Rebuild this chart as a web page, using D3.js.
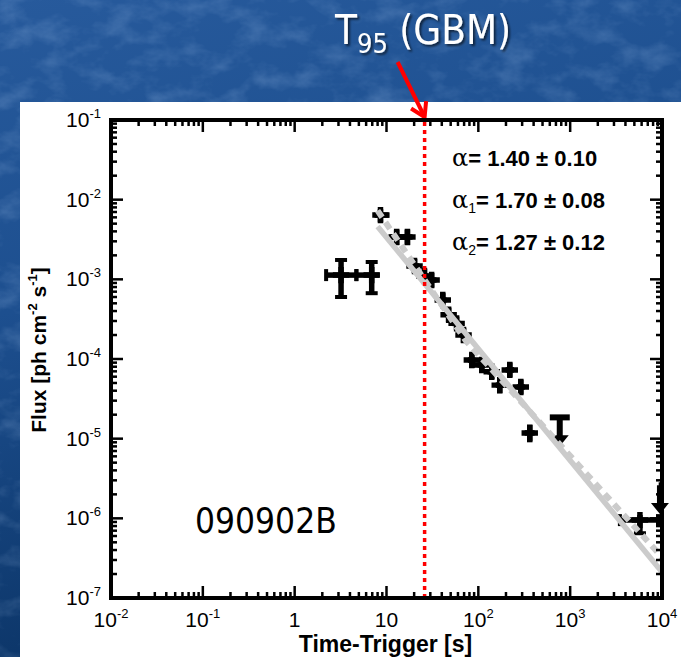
<!DOCTYPE html>
<html>
<head>
<meta charset="utf-8">
<script src="https://cdn.jsdelivr.net/npm/d3@7"></script>
<style>
  html, body { margin: 0; padding: 0; background: #1b4c8a; }
  svg { display: block; }
</style>
</head>
<body>
<svg id="chart" width="681" height="657"></svg>
<script>
// ---- Light-curve data: detections (time bins in s, flux in ph cm^-2 s^-1) ----
const timeMid  = [3.2, 6.9, 8.6, 12.9, 16.9, 20.2, 25.9, 31, 41, 47.5, 58, 69, 85, 109, 140, 171, 220, 290, 363, 5750];
const timeLo   = [2.2, 4.7, 7.4, 10.8, 14.9, 18.0, 22.8, 28.5, 36, 44, 52, 63, 77, 98, 126, 155, 198, 262, 320, 3480];
const timeHi   = [4.7, 8.4, 10.8, 14.9, 19.2, 22.8, 28.5, 35, 45, 52, 64, 76, 93, 120, 155, 190, 245, 320, 410, 9040];
const fluxMid  = [1.13e-3, 1.13e-3, 6.4e-3, 3.4e-3, 3.4e-3, 1.47e-3, 1.10e-3, 9.8e-4, 5.5e-4, 3.6e-4, 2.8e-4, 2.0e-4, 9.7e-5, 8.4e-5, 6.9e-5, 4.7e-5, 7.3e-5, 4.45e-5, 1.18e-5, 9.5e-7];
const fluxLo   = [6.0e-4, 6.7e-4, 5.2e-3, 2.7e-3, 2.7e-3, 1.2e-3, 9.0e-4, 7.9e-4, 4.5e-4, 2.9e-4, 2.3e-4, 1.6e-4, 7.7e-5, 6.8e-5, 5.6e-5, 3.7e-5, 5.9e-5, 3.6e-5, 9.0e-6, 6.5e-7];
const fluxHi   = [1.75e-3, 1.65e-3, 7.6e-3, 4.2e-3, 4.2e-3, 1.8e-3, 1.35e-3, 1.2e-3, 6.7e-4, 4.4e-4, 3.4e-4, 2.45e-4, 1.2e-4, 1.03e-4, 8.5e-5, 5.8e-5, 9.0e-5, 5.5e-5, 1.5e-5, 1.1e-6];

// ---- Upper limits ----
const ulTimeMid = [770, 9500];
const ulTimeLo  = [600, 9200];
const ulTimeHi  = [990, 9800];
const ulFlux    = [1.85e-5, 2.6e-6];

// ---- Power-law fits ----
const alphaSingle = 1.40, normSingle = 0.0845;          // F = N t^-alpha
const alpha1 = 1.70, alpha2 = 1.27, normBroken = 0.25, tBreak = 74;
const fitStart = 8, fitEnd = 1e4;
const t95 = 26;

// ---- Axes ----
const xTickValues = [1e-2, 1e-1, 1, 10, 1e2, 1e3, 1e4];
const xTickBase   = ["10", "10", "1", "10", "10", "10", "10"];
const xTickExp    = ["-2", "-1", "", "", "2", "3", "4"];
const yTickValues = [1e-1, 1e-2, 1e-3, 1e-4, 1e-5, 1e-6, 1e-7];
const yTickExp    = ["-1", "-2", "-3", "-4", "-5", "-6", "-7"];

const svg = d3.select("#chart");
const W = 681, H = 657;
const plot = { left: 111, right: 662, top: 120, bottom: 598 };

const x = d3.scaleLog().domain([1e-2, 1e4]).range([plot.left, plot.right]);
const y = d3.scaleLog().domain([1e-7, 1e-1]).range([plot.bottom, plot.top]);

// ---- Slide background ----
const defs = svg.append("defs");
const bg = defs.append("linearGradient").attr("id", "bgGrad")
  .attr("x1", 0).attr("y1", 0).attr("x2", 0.25).attr("y2", 1);
bg.append("stop").attr("offset", 0).attr("stop-color", "#275a9c");
bg.append("stop").attr("offset", 0.45).attr("stop-color", "#1d4f8f");
bg.append("stop").attr("offset", 1).attr("stop-color", "#0b3466");

const tex = defs.append("filter").attr("id", "tex")
  .attr("x", 0).attr("y", 0).attr("width", 1).attr("height", 1);
tex.append("feTurbulence").attr("type", "fractalNoise")
  .attr("baseFrequency", "0.03 0.045").attr("numOctaves", 4).attr("seed", 11);
tex.append("feColorMatrix").attr("type", "matrix")
  .attr("values", "0 0 0 0 0.5  0 0 0 0 0.68  0 0 0 0 0.95  0.9 0 0 0 -0.4");

svg.append("rect").attr("width", W).attr("height", H).attr("fill", "url(#bgGrad)");
svg.append("rect").attr("width", W).attr("height", H).attr("filter", "url(#tex)").attr("opacity", 0.5);

const shadow = defs.append("filter").attr("id", "shadow")
  .attr("x", -0.1).attr("y", -0.2).attr("width", 1.3).attr("height", 1.5);
shadow.append("feDropShadow").attr("dx", 2).attr("dy", 2).attr("stdDeviation", 1.2)
  .attr("flood-color", "#000").attr("flood-opacity", 0.6);

// ---- White figure panel ----
svg.append("rect").attr("x", 20).attr("y", 102).attr("width", W - 20).attr("height", H - 102)
  .attr("fill", "#ffffff");

// ---- Title with arrow ----
const title = svg.append("text").attr("x", 335).attr("y", 44)
  .attr("font-family", "'DejaVu Sans Condensed', 'DejaVu Sans', sans-serif")
  .attr("font-size", 40).attr("fill", "#ffffff").attr("filter", "url(#shadow)");
title.append("tspan").text("T");
title.append("tspan").attr("font-size", 27).attr("dy", 9).text("95");
title.append("tspan").attr("dy", -9).text(" (GBM)");

const arrowEndX = x(t95), arrowEndY = plot.top - 3;
const arrowStartX = arrowEndX - 27, arrowStartY = 62;
svg.append("line").attr("x1", arrowStartX).attr("y1", arrowStartY)
  .attr("x2", arrowEndX).attr("y2", arrowEndY)
  .attr("stroke", "#ff0000").attr("stroke-width", 4);
{
  const ang = Math.atan2(arrowEndY - arrowStartY, arrowEndX - arrowStartX);
  const L = 16, spread = 0.55;
  const p1 = [arrowEndX - L * Math.cos(ang - spread), arrowEndY - L * Math.sin(ang - spread)];
  const p2 = [arrowEndX - L * Math.cos(ang + spread), arrowEndY - L * Math.sin(ang + spread)];
  svg.append("path")
    .attr("d", `M${p1[0]},${p1[1]} L${arrowEndX},${arrowEndY} L${p2[0]},${p2[1]}`)
    .attr("fill", "none").attr("stroke", "#ff0000").attr("stroke-width", 4)
    .attr("stroke-linejoin", "miter");
}

// ---- Plot content ----
const g = svg.append("g");

// data points: cross marker plus error bars; end caps only where the bar is long enough to show them
const pts = d3.range(timeMid.length).map(i => ({
  t: timeMid[i], t0: timeLo[i], t1: timeHi[i], f: fluxMid[i], f0: fluxLo[i], f1: fluxHi[i]
}));
const pg = g.append("g").attr("stroke", "#000").attr("stroke-linecap", "butt");
const crossPath = d3.symbol(d3.symbolCross).size(150)();
pts.forEach(d => {
  const xc = x(d.t), yc = y(d.f);
  g.append("path").attr("d", crossPath).attr("transform", `translate(${xc},${yc})`).attr("fill", "#000");
  pg.append("line").attr("x1", x(d.t0)).attr("x2", x(d.t1)).attr("y1", yc).attr("y2", yc)
    .attr("stroke-width", 5.5);
  pg.append("line").attr("x1", xc).attr("x2", xc).attr("y1", y(d.f0)).attr("y2", y(d.f1))
    .attr("stroke-width", 5.5);
  [d.t0, d.t1].forEach(tt => {
    if (Math.abs(x(tt) - xc) > 11) pg.append("line")
      .attr("x1", x(tt)).attr("x2", x(tt)).attr("y1", yc - 6).attr("y2", yc + 6)
      .attr("stroke-width", 4);
  });
  [d.f0, d.f1].forEach(ff => {
    if (Math.abs(y(ff) - yc) > 11) pg.append("line")
      .attr("x1", xc - 6).attr("x2", xc + 6).attr("y1", y(ff)).attr("y2", y(ff))
      .attr("stroke-width", 4);
  });
});

// upper limits
d3.range(ulTimeMid.length).forEach(i => {
  const xm = x(ulTimeMid[i]), yv = y(ulFlux[i]);
  const yEnd = y(ulFlux[i] / 2.3);
  pg.append("line").attr("x1", x(ulTimeLo[i])).attr("x2", x(ulTimeHi[i]))
    .attr("y1", yv).attr("y2", yv).attr("stroke-width", 6);
  pg.append("line").attr("x1", xm).attr("x2", xm).attr("y1", yv).attr("y2", yEnd - 8)
    .attr("stroke-width", 6);
  g.append("path").attr("d", `M${xm - 9},${yEnd - 11} L${xm + 9},${yEnd - 11} L${xm},${yEnd} Z`)
    .attr("fill", "#000");
});

// fit lines
const singleFit = [fitStart, fitEnd].map(t => [t, normSingle * Math.pow(t, -alphaSingle)]);
const brokenAt = t => t < tBreak
  ? normBroken * Math.pow(t, -alpha1)
  : normBroken * Math.pow(tBreak, -alpha1) * Math.pow(t / tBreak, -alpha2);
const brokenFit = [fitStart, tBreak, fitEnd].map(t => [t, brokenAt(t)]);
const line = d3.line().x(d => x(d[0])).y(d => y(d[1]));

g.append("path").attr("d", line(brokenFit)).attr("fill", "none")
  .attr("stroke", "#cbcbcb").attr("stroke-width", 6).attr("stroke-dasharray", "8,6");
g.append("path").attr("d", line(singleFit)).attr("fill", "none")
  .attr("stroke", "#cbcbcb").attr("stroke-width", 5.5);

// T95 marker
g.append("line").attr("x1", x(t95)).attr("x2", x(t95))
  .attr("y1", plot.top + 2).attr("y2", plot.bottom - 2)
  .attr("stroke", "#ff0000").attr("stroke-width", 3.5).attr("stroke-dasharray", "4,4");

// ---- Frame and ticks ----
const frame = svg.append("g").attr("stroke", "#000");
frame.append("rect").attr("x", plot.left).attr("y", plot.top)
  .attr("width", plot.right - plot.left).attr("height", plot.bottom - plot.top)
  .attr("fill", "none").attr("stroke-width", 4);

function logTicks(domain) {
  const out = [];
  const lo = Math.round(Math.log10(domain[0])), hi = Math.round(Math.log10(domain[1]));
  for (let e = lo; e <= hi; e++) {
    for (let m = 1; m <= 9; m++) {
      const v = m * Math.pow(10, e);
      if (v < domain[0] * 0.999 || v > domain[1] * 1.001) continue;
      out.push({ v, major: m === 1 });
    }
  }
  return out;
}
logTicks(x.domain()).forEach(tk => {
  const len = tk.major ? 12 : 6, xx = x(tk.v);
  frame.append("line").attr("x1", xx).attr("x2", xx).attr("y1", plot.bottom).attr("y2", plot.bottom - len).attr("stroke-width", 2.5);
  frame.append("line").attr("x1", xx).attr("x2", xx).attr("y1", plot.top).attr("y2", plot.top + len).attr("stroke-width", 2.5);
});
logTicks(y.domain()).forEach(tk => {
  const len = tk.major ? 12 : 6, yy = y(tk.v);
  frame.append("line").attr("x1", plot.left).attr("x2", plot.left + len).attr("y1", yy).attr("y2", yy).attr("stroke-width", 2.5);
  frame.append("line").attr("x1", plot.right).attr("x2", plot.right - len).attr("y1", yy).attr("y2", yy).attr("stroke-width", 2.5);
});

// tick labels
const labelFont = "'Liberation Sans', Arial, sans-serif";
xTickValues.forEach((v, i) => {
  const t = svg.append("text").attr("x", x(v)).attr("y", 627)
    .attr("text-anchor", "middle").attr("font-family", labelFont)
    .attr("font-size", 21).attr("fill", "#000");
  t.append("tspan").text(xTickBase[i]);
  if (xTickExp[i]) t.append("tspan").attr("font-size", 13).attr("dy", -9).text(xTickExp[i]);
});
yTickValues.forEach((v, i) => {
  const t = svg.append("text").attr("x", 101).attr("y", y(v) + 7)
    .attr("text-anchor", "end").attr("font-family", labelFont)
    .attr("font-size", 21).attr("fill", "#000");
  t.append("tspan").text("10");
  t.append("tspan").attr("font-size", 13).attr("dy", -9).text(yTickExp[i]);
});

// axis titles
svg.append("text").attr("x", (plot.left + plot.right) / 2 - 1).attr("y", 652)
  .attr("text-anchor", "middle").attr("font-family", labelFont)
  .attr("font-weight", "bold").attr("font-size", 23).attr("fill", "#000")
  .text("Time-Trigger [s]");

const yt = svg.append("text").attr("transform", "translate(46,350) rotate(-90)")
  .attr("text-anchor", "middle").attr("font-family", labelFont)
  .attr("font-weight", "bold").attr("font-size", 21).attr("fill", "#000");
yt.append("tspan").text("Flux [ph cm");
yt.append("tspan").attr("font-size", 13).attr("dy", -9).text("-2");
yt.append("tspan").attr("dy", 9).text(" s");
yt.append("tspan").attr("font-size", 13).attr("dy", -9).text("-1");
yt.append("tspan").attr("dy", 9).text("]");

// fit results
const fitLabels = [
  { sub: "",  text: "= 1.40 \u00b1 0.10", yPos: 166 },
  { sub: "1", text: "= 1.70 \u00b1 0.08", yPos: 208 },
  { sub: "2", text: "= 1.27 \u00b1 0.12", yPos: 250 }
];
fitLabels.forEach(fl => {
  const t = svg.append("text").attr("x", 452).attr("y", fl.yPos)
    .attr("font-family", labelFont).attr("font-size", 22).attr("fill", "#000");
  t.append("tspan").attr("font-family", "'DejaVu Serif', serif").attr("font-size", 24).text("\u03b1");
  if (fl.sub) t.append("tspan").attr("font-size", 14).attr("dy", 5).text(fl.sub);
  t.append("tspan").attr("font-weight", "bold").attr("dy", fl.sub ? -5 : 0).text(fl.text);
});

// burst name
svg.append("text").attr("x", 195).attr("y", 533)
  .attr("font-family", "'DejaVu Sans Condensed', 'DejaVu Sans', sans-serif")
  .attr("font-size", 35).attr("fill", "#000").text("090902B");
</script>
</body>
</html>
